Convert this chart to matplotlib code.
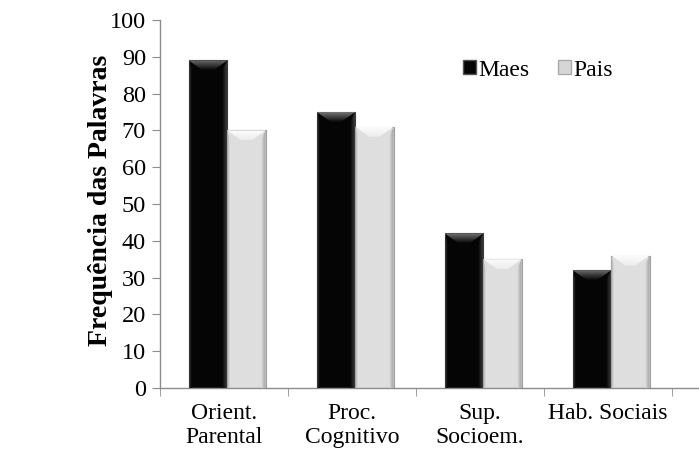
import numpy as np
import matplotlib
matplotlib.use("Agg")
import matplotlib.pyplot as plt
from matplotlib.patches import Polygon, Rectangle

# data
categorias = ["Orient.\nParental", "Proc.\nCognitivo", "Sup.\nSocioem.", "Hab. Sociais"]
maes = [89, 75, 42, 32]
pais = [70, 71, 35, 36]
series_nomes = ["Maes", "Pais"]

plt.rcParams["font.family"] = ["Liberation Serif", "DejaVu Serif"]

fig = plt.figure(figsize=(6.99, 4.57), dpi=100)
ax = fig.add_axes([160 / 699, 1 - 388 / 457, 539 / 699, 368 / 457])

x = np.arange(len(categorias))
w = 0.3
shift = 0.025

# body colours, bevel gradient (top colour, bottom colour) and edge colour
estilos = [
    {"body": "#050505", "bev": ("#747474", "#080808"), "edge": "#3a3a3a"},
    {"body": "#dedede", "bev": ("#fdfdfd", "#ececec"), "edge": "#a0a0a0"},
]

ax.set_xlim(-0.5, 3.5 + 27 / 128)
ax.set_ylim(0, 100)


def bevel(ax, x0, width, height, st):
    # top bevel trapezoid with a vertical gradient, sized in pixels
    px_x = (ax.get_xlim()[1] - ax.get_xlim()[0]) / ax.bbox.width
    px_y = (ax.get_ylim()[1] - ax.get_ylim()[0]) / ax.bbox.height
    bx = 14 * px_x
    by = 10 * px_y
    top = height
    pts = [(x0, top), (x0 + width, top), (x0 + width - bx, top - by), (x0 + bx, top - by)]
    poly = Polygon(pts, closed=True, facecolor="none", edgecolor="none")
    ax.add_patch(poly)
    c1 = np.array(matplotlib.colors.to_rgb(st["bev"][0]))
    c2 = np.array(matplotlib.colors.to_rgb(st["bev"][1]))
    t = np.linspace(0, 1, 32)[:, None]
    grad = (c1 * (1 - t) + c2 * t)[:, None, :]
    im = ax.imshow(grad, extent=(x0, x0 + width, top - by, top), aspect="auto",
                   origin="upper", zorder=3)
    im.set_clip_path(poly)
    # side shading
    side = np.array(matplotlib.colors.to_rgb(st["edge"]))
    body = np.array(matplotlib.colors.to_rgb(st["body"]))
    s = np.linspace(0, 1, 16)[None, :]
    for xa, xb, rev in [(x0 + width - 5 * px_x, x0 + width, False), (x0, x0 + 3 * px_x, True)]:
        tt = s[..., None] if not rev else (1 - s)[..., None]
        g = body * (1 - tt) + side * tt
        sp = Polygon([(xa, 0), (xb, 0), (xb, top), (xa, top - by)] if not rev else
                     [(xa, 0), (xb, 0), (xb, top - by), (xa, top)],
                     closed=True, facecolor="none", edgecolor="none")
        ax.add_patch(sp)
        im2 = ax.imshow(g, extent=(xa, xb, 0, top), aspect="auto",
                        origin="lower", zorder=2.9)
        im2.set_clip_path(sp)


for i, vals in enumerate([maes, pais]):
    st = estilos[i]
    pos = x - w + i * w + shift
    bars = ax.bar(pos, vals, width=w, align="edge", color=st["body"],
                  edgecolor=st["edge"], linewidth=0.8, zorder=2)
    for b in bars:
        bevel(ax, b.get_x(), b.get_width(), b.get_height(), st)

ax.set_xlim(-0.5, 3.5 + 27 / 128)
ax.set_ylim(0, 100)

# axes styling
for sp in ["top", "right"]:
    ax.spines[sp].set_visible(False)
for sp in ["left", "bottom"]:
    ax.spines[sp].set_color("#8c8c8c")
    ax.spines[sp].set_linewidth(1.0)

ax.set_yticks(np.arange(0, 101, 10))
ax.tick_params(axis="y", direction="out", length=6, color="#8c8c8c",
               labelsize=17.5, pad=4)
ax.set_xticks(x)
ax.set_xticklabels(categorias, fontsize=17, linespacing=1.15)
ax.tick_params(axis="x", length=0, pad=11)
ax.set_xticks(np.arange(-0.5, 4, 1), minor=True)
ax.tick_params(axis="x", which="minor", direction="out", length=6, color="#8c8c8c")

fig.text(101 / 699, 1 - 200 / 457, "Frequência das Palavras", rotation=90,
         ha="center", va="center", fontsize=20, fontweight="bold")

handles = [Rectangle((0, 0), 1, 1, facecolor=estilos[0]["body"], edgecolor="#555555"),
           Rectangle((0, 0), 1, 1, facecolor="#d6d6d6", edgecolor="#aaaaaa")]
fig.legend(handles, series_nomes, loc="center", bbox_to_anchor=(538 / 699, 1 - 70 / 457),
           ncol=2, frameon=False, fontsize=17, handlelength=0.55, handleheight=0.55,
           handletextpad=0.12, columnspacing=1.2)

fig.savefig("out.png", dpi=100)
